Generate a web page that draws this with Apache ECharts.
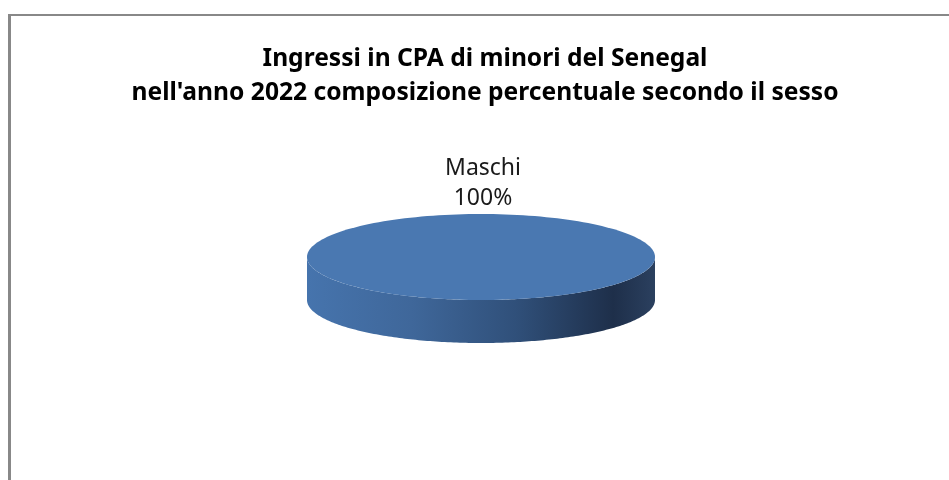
<!DOCTYPE html>
<html>
<head>
<meta charset="utf-8">
<script src="https://cdn.jsdelivr.net/npm/echarts@6/dist/echarts.min.js"></script>
<style>
html, body { margin: 0; padding: 0; background: #fff; overflow: hidden; }
#frame { position: absolute; left: 8px; top: 14px; width: 1000px; height: 520px;
         border-left: 3px solid #888; border-top: 2px solid #888; }
#chart { position: absolute; left: 0; top: 0; width: 949px; height: 480px; }
</style>
</head>
<body>
<div id="frame"></div>
<div id="chart"></div>
<script>
// dati
var titleLines = ['Ingressi in CPA di minori del Senegal',
                  "nell'anno 2022 composizione percentuale secondo il sesso"];
var categories = ['Maschi'];
var values = [100];

var total = values.reduce(function (a, b) { return a + b; }, 0);
var seriesData = categories.map(function (c, i) { return { name: c, value: values[i] }; });

// torta "3D": ellisse + parete laterale
var pie = { cx: 481, cy: 257, rx: 174, ry: 43, depth: 43 };

function ellPt(t, dy) {
  return [pie.cx + pie.rx * Math.cos(t), pie.cy + pie.ry * Math.sin(t) + (dy || 0)];
}

function renderSlice(params, api) {
  var i = params.dataIndex;
  var before = 0;
  for (var k = 0; k < i; k++) before += values[k];
  var a0 = -Math.PI / 2 + before / total * 2 * Math.PI;
  var a1 = a0 + api.value(0) / total * 2 * Math.PI;
  var full = (a1 - a0) >= 2 * Math.PI - 1e-6;
  var n = 180, children = [];

  // parete laterale (solo la metà anteriore)
  [0, 2 * Math.PI].forEach(function (base) {
    var lo = Math.max(a0, base), hi = Math.min(a1, base + Math.PI);
    if (hi <= lo) return;
    var top = [], bot = [];
    for (var s = 0; s <= n; s++) {
      var t = lo + (hi - lo) * s / n;
      top.push(ellPt(t, 0));
      bot.push(ellPt(t, pie.depth));
    }
    children.push({
      type: 'polygon',
      shape: { points: top.concat(bot.reverse()) },
      style: {
        fill: new echarts.graphic.LinearGradient(0, 0, 1, 0, [
          { offset: 0, color: '#4674ad' },
          { offset: 0.3, color: '#3f679a' },
          { offset: 0.6, color: '#30507a' },
          { offset: 0.88, color: '#1e2f4a' },
          { offset: 1, color: '#2b405f' }
        ])
      }
    });
  });

  // faccia superiore
  var pts = [];
  for (var s = 0; s <= n; s++) pts.push(ellPt(a0 + (a1 - a0) * s / n, 0));
  if (!full) pts.push([pie.cx, pie.cy]);
  children.push({ type: 'polygon', shape: { points: pts }, style: { fill: '#4a78b1' } });

  // etichetta
  var mid = full ? -Math.PI / 2 : (a0 + a1) / 2;
  var pct = Math.round(api.value(0) / total * 100);
  children.push({
    type: 'text',
    style: {
      text: api.value(1) + '\n' + pct + '%',
      x: pie.cx + 2 + (pie.rx + 31) * Math.cos(mid),
      y: pie.cy + (pie.ry + 31) * Math.sin(mid),
      align: 'center',
      verticalAlign: 'middle',
      fontSize: 23,
      lineHeight: 30,
      fontFamily: 'Noto Sans',
      fill: '#1a1a1a'
    }
  });
  return { type: 'group', children: children };
}

var myChart = echarts.init(document.getElementById('chart'));
var option = {
  backgroundColor: 'transparent',
  animation: false,
  title: {
    text: titleLines.join('\n'),
    left: 480,
    textAlign: 'center',
    top: 37,
    textStyle: {
      fontFamily: "'Noto Sans', sans-serif",
      fontWeight: 'bold',
      fontSize: 24.6,
      lineHeight: 34,
      color: '#000'
    }
  },
  series: [{
    type: 'custom',
    coordinateSystem: 'none',
    renderItem: renderSlice,
    encode: { value: 0 },
    dimensions: ['value', 'name'],
    data: seriesData.map(function (d) { return [d.value, d.name]; })
  }]
};
myChart.setOption(option);
</script>
</body>
</html>
